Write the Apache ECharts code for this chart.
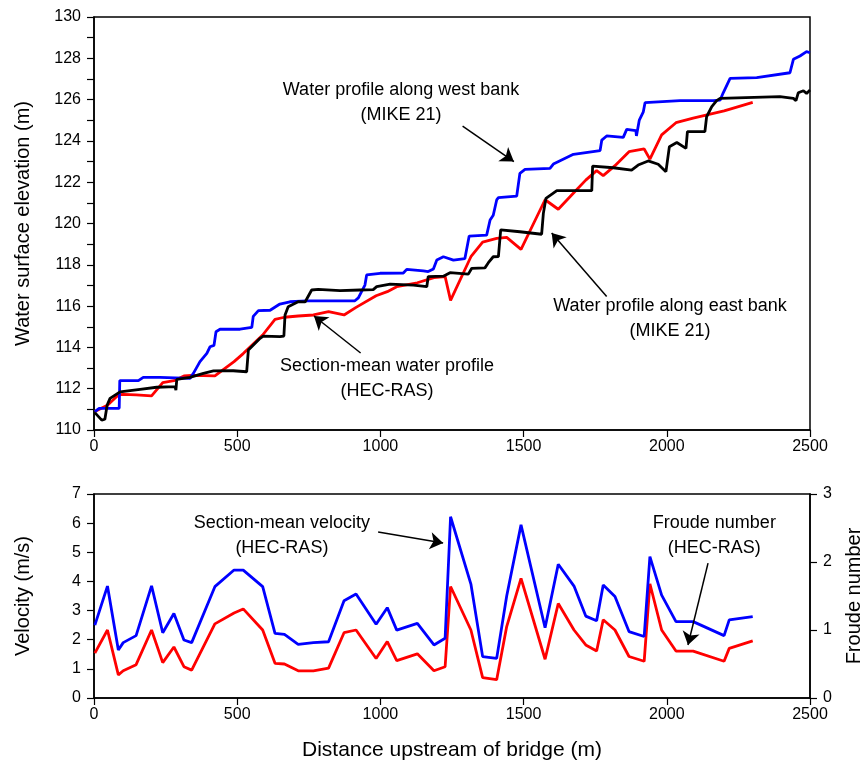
<!DOCTYPE html>
<html>
<head>
<meta charset="utf-8">
<script src="https://cdn.jsdelivr.net/npm/echarts@6/dist/echarts.min.js"></script>
<style>
html,body{margin:0;padding:0;background:#fff;}
#chart{width:864px;height:771px;}
</style>
</head>
<body>
<div id="chart"></div>
<script>
// ---- Data ----
// HEC-RAS cross sections (distance upstream of bridge, m)
const sectionX = [3,47,85,102,147,201,240,279,314,341,422,489,521,589,632,665,713,766,819,873,915,985,1024,1057,1129,1187,1226,1245,1316,1357,1406,1441,1491,1575,1621,1676,1717,1755,1778,1819,1868,1921,1941,1982,2032,2092,2200,2218,2300];
// Section-mean water surface elevation (HEC-RAS), m
const hecrasWse = [110.89,111.2,111.7,111.73,111.7,111.65,112.29,112.39,112.62,112.65,112.62,113.31,113.7,114.6,115.36,115.46,115.52,115.57,115.73,115.57,115.94,116.5,116.7,116.94,117.13,117.38,117.43,116.28,118.39,119.1,119.28,119.33,118.75,121.15,120.69,121.5,122.1,122.56,122.32,122.8,123.48,123.61,123.12,124.29,124.88,125.1,125.45,125.53,125.87];
// Section-mean velocity (HEC-RAS), m/s
const velocity = [2.5,3.84,1.65,1.9,2.14,3.85,2.24,2.9,1.99,1.9,3.82,4.39,4.39,3.82,2.22,2.18,1.84,1.9,1.93,3.34,3.57,2.53,3.1,2.33,2.56,1.82,2.05,6.22,3.91,1.42,1.36,3.5,5.94,2.41,4.59,3.84,2.81,2.65,3.88,3.48,2.28,2.11,4.85,3.53,2.62,2.62,2.14,2.68,2.79];
// Froude number (HEC-RAS)
const froude = [0.66,1.0,0.34,0.40,0.49,1.0,0.52,0.75,0.46,0.41,1.09,1.25,1.31,1.0,0.51,0.5,0.40,0.40,0.44,0.96,1.0,0.58,0.83,0.55,0.65,0.40,0.46,1.64,1.0,0.30,0.27,1.05,1.76,0.57,1.39,1.0,0.78,0.69,1.15,1.0,0.61,0.54,1.68,1.0,0.69,0.69,0.54,0.73,0.84];
// West bank profile (MIKE 21)
const westX = [3,18,88,90,155,172,230,335,347,370,394,405,419,426,440,510,551,556,574,615,649,684,743,911,923,946,952,999,1080,1092,1150,1167,1185,1197,1220,1255,1295,1310,1371,1383,1394,1406,1412,1476,1487,1505,1592,1604,1674,1767,1773,1790,1848,1860,1892,1894,1904,1918,1924,2046,2162,2186,2197,2221,2314,2430,2442,2465,2488,2500];
const westY = [110.89,111.05,111.05,112.39,112.39,112.55,112.55,112.5,112.74,113.31,113.71,114.03,114.1,114.76,114.88,114.88,114.97,115.5,115.78,115.8,116.1,116.21,116.25,116.26,116.4,117.02,117.51,117.59,117.6,117.78,117.71,117.67,117.8,118.23,118.39,118.23,118.3,119.39,119.44,120.17,120.4,121.14,121.25,121.33,122.43,122.62,122.67,122.88,123.35,123.53,124.04,124.24,124.17,124.56,124.5,124.24,125.01,125.41,125.85,125.95,125.95,125.97,126.33,127.03,127.06,127.3,127.95,128.11,128.32,128.27];
// East bank profile (MIKE 21)
const eastX = [3,27,38,46,56,91,97,161,219,283,286,289,335,382,417,486,533,539,580,591,649,663,667,678,713,737,760,783,859,929,975,987,1034,1115,1162,1167,1220,1243,1307,1319,1365,1377,1394,1412,1420,1487,1563,1569,1578,1616,1738,1741,1813,1877,1900,1935,1970,1997,2009,2035,2067,2072,2133,2139,2157,2174,2186,2395,2442,2451,2459,2477,2488,2500];
const eastY = [110.84,110.48,110.52,111.21,111.53,111.85,111.93,111.97,112.07,112.1,111.93,112.45,112.55,112.74,112.86,112.87,112.82,113.87,114.44,114.55,114.52,114.55,115.57,115.97,116.21,116.2,116.78,116.81,116.75,116.78,116.8,116.94,117.06,117.02,116.94,117.43,117.45,117.62,117.55,117.83,117.85,118.1,118.39,118.4,119.69,119.6,119.48,120.49,121.22,121.59,121.59,122.78,122.7,122.59,122.83,123.03,122.87,122.51,123.72,123.92,123.64,124.45,124.45,125.17,125.66,125.95,126.06,126.14,126.06,125.95,126.33,126.43,126.3,126.46];
// Axis tick settings
const xTicks = {min:0, max:2500, interval:500};
const wseTicks = {min:110, max:130, interval:2};
const velTicks = {min:0, max:7, interval:1};
const frTicks = {min:0, max:3, interval:1};

// ---- Build ----
const zip = (a,b) => a.map((v,i)=>[v,b[i]]);
const FONT = 'Liberation Sans, Arial, sans-serif';
const chart = echarts.init(document.getElementById('chart'), null, {renderer:'canvas'});
const plain = v => String(v);

function xAxisCfg(grid, extra){
  return Object.assign({
    type:'value', gridIndex:grid, min:xTicks.min, max:xTicks.max, interval:xTicks.interval,
    axisLine:{show:true, onZero:false, lineStyle:{color:'#000', width:1.5}},
    axisTick:{show:true, inside:false, length:7, lineStyle:{color:'#000', width:1.2}},
    axisLabel:{color:'#000', fontSize:16, fontFamily:FONT, margin:9, formatter:plain},
    splitLine:{show:false}
  }, extra||{});
}
function yAxisCfg(grid, t, extra){
  return Object.assign({
    type:'value', gridIndex:grid, min:t.min, max:t.max, interval:t.interval,
    axisLine:{show:true, onZero:false, lineStyle:{color:'#000', width:1.5}},
    axisTick:{show:true, inside:false, length:7, lineStyle:{color:'#000', width:1.2}},
    axisLabel:{color:'#000', fontSize:16, fontFamily:FONT, margin:13, formatter:plain},
    splitLine:{show:false},
    nameLocation:'middle',
    nameTextStyle:{color:'#000', fontSize:20, fontFamily:FONT}
  }, extra||{});
}

const annLabel = (txt) => ({
  show:true, position:'inside', formatter:txt, color:'#000', fontSize:18,
  fontFamily:FONT, lineHeight:25, align:'center', verticalAlign:'middle'
});
const arrowStyle = {color:'#000', width:1.5, type:'solid'};
const arrowLine = (pairs) => ({
  silent:true, symbol:['none','arrow'], symbolSize:13, label:{show:false},
  lineStyle:arrowStyle, emphasis:{disabled:true},
  data:pairs.map(p => [{coord:p[0]},{coord:p[1]}])
});

const option = {
  animation:false,
  backgroundColor:'#fff',
  grid:[
    {left:94, right:54, top:17, height:413, show:true, borderColor:'#000', borderWidth:1.5, backgroundColor:'transparent', containLabel:false, outerBoundsMode:'none'},
    {left:94, right:54, top:494, height:204, show:true, borderColor:'#000', borderWidth:1.5, backgroundColor:'transparent', containLabel:false, outerBoundsMode:'none'}
  ],
  xAxis:[
    xAxisCfg(0),
    xAxisCfg(1, {name:'Distance upstream of bridge (m)', nameLocation:'middle', nameGap:42,
      nameTextStyle:{color:'#000', fontSize:21, fontFamily:FONT}})
  ],
  yAxis:[
    yAxisCfg(0, wseTicks, {name:'Water surface elevation (m)', nameGap:61,
      minorTick:{show:true, splitNumber:2, length:7, lineStyle:{color:'#000', width:1.2}}}),
    yAxisCfg(1, velTicks, {name:'Velocity (m/s)', nameGap:61}),
    yAxisCfg(1, frTicks, {name:'Froude number', nameGap:34, position:'right'})
  ],
  series:[
    {
      name:'Section-mean water profile (HEC-RAS)', type:'line', xAxisIndex:0, yAxisIndex:0,
      data:zip(sectionX, hecrasWse), showSymbol:false, lineStyle:{color:'#ff0000', width:2.8}, z:2,
      markPoint:{symbol:'circle', symbolSize:0, silent:true, data:[
        {coord:[1023,112.47], label:annLabel('Section-mean water profile\n(HEC-RAS)')}
      ]},
      markLine:arrowLine([[[931,113.73],[768,115.52]]])
    },
    {
      name:'Water profile along west bank (MIKE 21)', type:'line', xAxisIndex:0, yAxisIndex:0,
      data:zip(westX, westY), showSymbol:false, lineStyle:{color:'#0000ff', width:2.8}, z:3,
      markPoint:{symbol:'circle', symbolSize:0, silent:true, data:[
        {coord:[1072,125.86], label:annLabel('Water profile along west bank\n(MIKE 21)')}
      ]},
      markLine:arrowLine([[[1287,124.72],[1466,123.0]]])
    },
    {
      name:'Water profile along east bank (MIKE 21)', type:'line', xAxisIndex:0, yAxisIndex:0,
      data:zip(eastX, eastY), showSymbol:false, lineStyle:{color:'#000000', width:2.8}, z:4,
      markPoint:{symbol:'circle', symbolSize:0, silent:true, data:[
        {coord:[2011,115.38], label:annLabel('Water profile along east bank\n(MIKE 21)')}
      ]},
      markLine:arrowLine([[[1790,116.46],[1598,119.54]]])
    },
    {
      name:'Section-mean velocity (HEC-RAS)', type:'line', xAxisIndex:1, yAxisIndex:1,
      data:zip(sectionX, velocity), showSymbol:false, lineStyle:{color:'#0000ff', width:2.8}, z:3,
      markPoint:{symbol:'circle', symbolSize:0, silent:true, data:[
        {coord:[656,5.58], label:annLabel('Section-mean velocity\n(HEC-RAS)')},
        {coord:[2166,5.58], label:annLabel('Froude number\n(HEC-RAS)')}
      ]},
      markLine:arrowLine([[[992,5.70],[1219,5.32]], [[2144,4.63],[2074,1.82]]])
    },
    {
      name:'Froude number (HEC-RAS)', type:'line', xAxisIndex:1, yAxisIndex:2,
      data:zip(sectionX, froude), showSymbol:false, lineStyle:{color:'#ff0000', width:2.8}, z:2
    }
  ]
};
chart.setOption(option);
</script>
</body>
</html>
